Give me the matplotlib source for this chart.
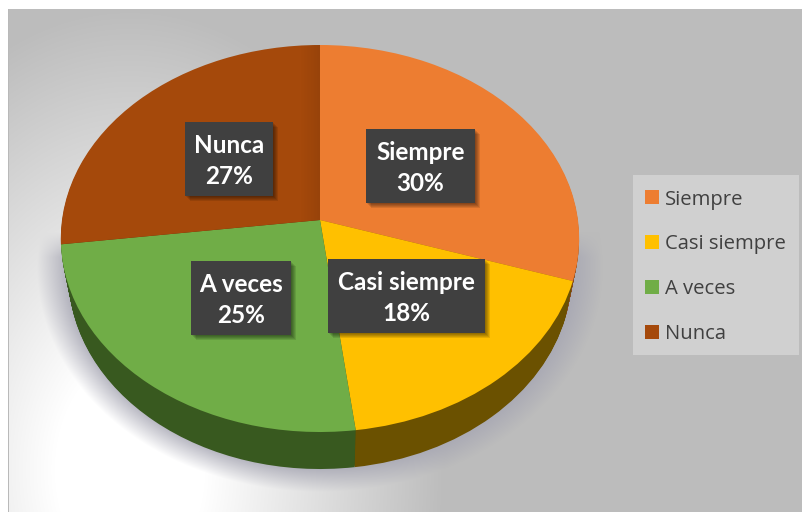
import matplotlib
matplotlib.use('Agg')
import matplotlib.pyplot as plt
import matplotlib.patches as mpatches
import matplotlib.transforms as mtransforms
import numpy as np

categorias = ['Siempre', 'Casi siempre', 'A veces', 'Nunca']
valores = [30, 18, 25, 27]
cores = ['#ED7D31', '#FFC000', '#70AD47', '#A5490B']
cores_lado = ['#8a4a1c', '#6b5100', '#38591f', '#5e2c08']

# posicao dos rotulos (canto esq, topo, largura, altura) em pixels
caixas = [(366, 129, 109, 74), (328, 259, 157, 74), (191, 261, 100, 74), (185, 122, 88, 74)]


class Perspectiva(mtransforms.Transform):
    # leva o disco unitario da pizza para a elipse inclinada, em pixels
    input_dims = 2
    output_dims = 2
    is_affine = False

    def __init__(self, prof=0.0):
        super().__init__()
        self.prof = prof

    def transform_non_affine(self, values):
        v = np.asarray(values, dtype=float)
        w = 1 + 0.0956 * v[:, 1]
        fator = 1 - 0.03 * self.prof / 37.0
        x = 320 + 258 * fator * v[:, 0] / w
        y = self.prof + (220 - 170.7 * v[:, 1]) / w
        return np.column_stack([x, y])


def fundo():
    yy, xx = np.mgrid[9:512, 8:803] + 0.5
    r = np.sqrt(((xx - 130) / 300.0) ** 2 + ((yy - 470) / 440.0) ** 2)
    t = np.clip((r - 0.25) / 0.8, 0, 1)
    cinza = 255 - t * (255 - 188)
    img = np.dstack([cinza, cinza, cinza]) / 255.0

    # sombra da pizza
    rs = np.sqrt(((xx - 320) / 283.0) ** 2 + ((yy - 268) / 224.0) ** 2)
    m = np.clip((1.0 - rs) / 0.13, 0, 1)
    m = m * np.clip((yy - 232) / 25.0, 0, 1)
    tinta = np.array([0.65, 0.65, 0.70])
    for c in range(3):
        img[:, :, c] = img[:, :, c] * (1 - m) + tinta[c] * m
    return img


fig = plt.figure(figsize=(8.03, 5.12), dpi=100)
ax = fig.add_axes([0, 0, 1, 1])

ax.imshow(fundo(), extent=(8, 803, 512, 9), aspect='auto', zorder=0, interpolation='bilinear')
ax.add_patch(mpatches.Rectangle((8, 9), 1.5, 503, color='#b9b9b9', lw=0, zorder=1))

# parede lateral, camada por camada
for d in np.arange(37, 0, -1.0):
    fatias, _ = ax.pie(valores, colors=cores_lado, startangle=90, counterclock=False,
                       wedgeprops={'linewidth': 0})
    for f in fatias:
        f.set_transform(Perspectiva(d) + ax.transData)
        f.set_zorder(2)

fatias, _ = ax.pie(valores, colors=cores, startangle=90, counterclock=False,
                   wedgeprops={'linewidth': 0})
for f in fatias:
    f.set_transform(Perspectiva() + ax.transData)
    f.set_zorder(3)

# faixa mais escura junto da divisa em Nunca
faixa = np.zeros((1, 20, 4))
faixa[0, :, 3] = np.linspace(0, 0.08, 20)
im = ax.imshow(faixa, extent=(300, 320, 240, 40), aspect='auto', zorder=3.5)
im.set_clip_path(fatias[3])

# rotulos
for nome, v, (x0, y0, w, h) in zip(categorias, valores, caixas):
    for k in range(5, 0, -1):
        ax.add_patch(mpatches.Rectangle((x0 + k, y0 + k), w, h, color='black', alpha=0.1, lw=0, zorder=4))
    ax.add_patch(mpatches.Rectangle((x0, y0), w, h, color='#404040', lw=0, zorder=5))
    ax.text(x0 + w / 2, y0 + h / 2 + 2, nome + '\n' + str(v) + '%', color='white', fontsize=17.5,
            fontweight='bold', family='Lato', ha='center', va='center', linespacing=1.42, zorder=6)

# legenda
ax.add_patch(mpatches.Rectangle((633, 175), 166, 180, color='#D0D0D0', lw=0, zorder=4))
ax.legend(fatias, categorias, loc='upper left', bbox_to_anchor=(645, 189.5), bbox_transform=ax.transData,
          frameon=False, prop={'family': 'Open Sans', 'size': 14.6}, labelcolor='#404040',
          handlelength=0.68, handleheight=0.68, handletextpad=0.32, labelspacing=1.23,
          borderpad=0, borderaxespad=0).set_zorder(6)

ax.set_aspect('auto')
ax.set_xlim(0, 803)
ax.set_ylim(512, 0)
ax.set_frame_on(False)
ax.set_xticks([])
ax.set_yticks([])

fig.savefig('out.png', dpi=100)
